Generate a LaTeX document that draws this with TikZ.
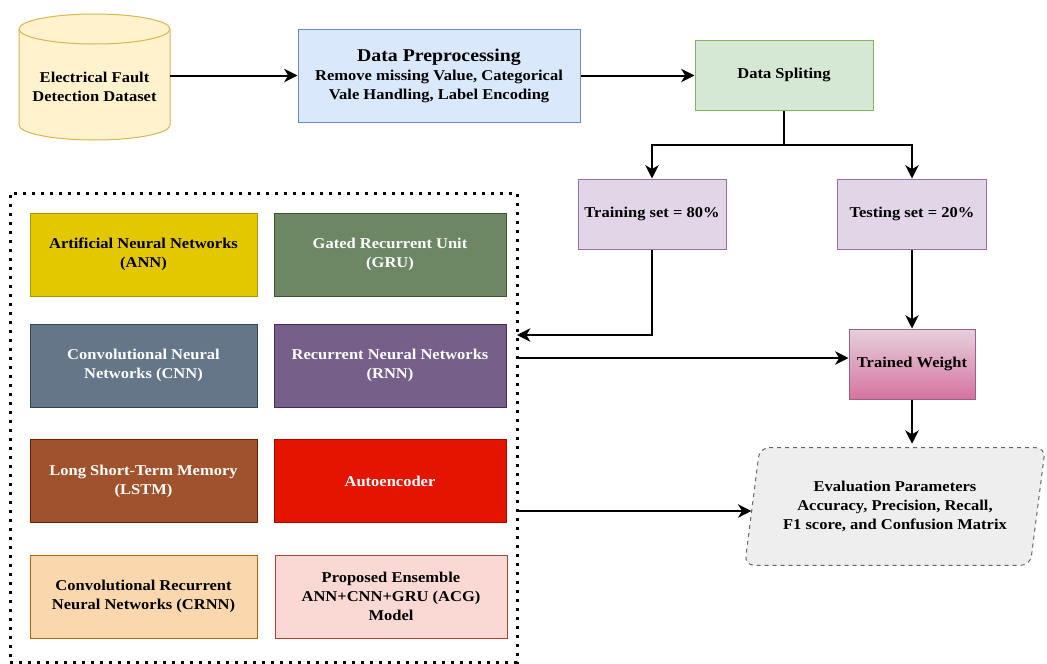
\documentclass[tikz,border=0pt]{standalone}
\usepackage{fontspec}
\setmainfont{Liberation Serif}[FakeStretch=1.1]
\usetikzlibrary{arrows.meta}

\definecolor{cylfill}{HTML}{FFF2CC}
\definecolor{cylline}{HTML}{D6B656}
\definecolor{bluefill}{HTML}{DAE8FC}
\definecolor{blueline}{HTML}{6C8EBF}
\definecolor{greenfill}{HTML}{D5E8D4}
\definecolor{greenline}{HTML}{82B366}
\definecolor{lilafill}{HTML}{E1D5E7}
\definecolor{lilaline}{HTML}{9673A6}
\definecolor{annfill}{HTML}{E3C800}
\definecolor{annline}{HTML}{B09500}
\definecolor{grufill}{HTML}{6D8764}
\definecolor{gruline}{HTML}{3A5431}
\definecolor{cnnfill}{HTML}{647687}
\definecolor{cnnline}{HTML}{314354}
\definecolor{rnnfill}{HTML}{76608A}
\definecolor{rnnline}{HTML}{432D57}
\definecolor{lstmfill}{HTML}{A0522D}
\definecolor{lstmline}{HTML}{6D1F00}
\definecolor{aefill}{HTML}{E51400}
\definecolor{aeline}{HTML}{B20000}
\definecolor{crnnfill}{HTML}{FAD7AC}
\definecolor{crnnline}{HTML}{B46504}
\definecolor{acgfill}{HTML}{FAD9D5}
\definecolor{acgline}{HTML}{AE4132}
\definecolor{wtop}{HTML}{E6D0DE}
\definecolor{wbottom}{HTML}{D5739D}
\definecolor{wline}{HTML}{996185}
\definecolor{evalfill}{HTML}{EEEEEE}
\definecolor{evalline}{HTML}{666666}

\newcommand{\bodyfont}{\fontsize{11.25pt}{14.25pt}\selectfont\bfseries}
\newcommand{\titlefont}{\fontsize{13.5pt}{14.25pt}\selectfont\bfseries}

\begin{document}
\begin{tikzpicture}[x=0.75pt,y=-0.75pt,
	box/.style={draw, line width=0.75pt, inner sep=2pt, align=center, font=\bodyfont},
	leftmodel/.style={box, minimum width=170.25pt, minimum height=62.25pt},
	rightmodel/.style={box, minimum width=174pt, minimum height=62.25pt},
	arr/.style={line width=1.5pt, -{Stealth[length=10pt,width=10pt,inset=3pt]}}]
	\useasboundingbox (0,0) rectangle (1047,664);

	% dataset cylinder
	\draw[draw=cylline, fill=cylfill, line width=0.75pt] (19,29) -- (19,125)
		arc[start angle=180, end angle=360, x radius=56.625pt, y radius=11.25pt] -- (170,29)
		arc[start angle=0, end angle=180, x radius=56.625pt, y radius=11.25pt] -- cycle;
	\draw[draw=cylline, line width=0.75pt] (19,29) arc[start angle=180, end angle=360, x radius=56.625pt, y radius=11.25pt];
	\node[minimum width=113.25pt, minimum height=94.5pt, inner sep=0pt] (data) at (94.5,77) {};
	\node[align=center, font=\bodyfont] (datatext) at (94.5,87) {Electrical Fault\\Detection Dataset};

	% top row
	\node[box, draw=blueline, fill=bluefill, minimum width=211.5pt, minimum height=69.75pt] (prep) at (439,75.5)
		{{\titlefont Data Preprocessing}\\Remove missing Value, Categorical\\Vale Handling, Label Encoding};
	\node[box, draw=greenline, fill=greenfill, minimum width=133.5pt, minimum height=52.5pt] (split) at (784,75) {Data Spliting};
	\node[box, draw=lilaline, fill=lilafill, minimum width=111pt, minimum height=52.5pt] (train) at (652,214) {Training set = 80\%};
	\node[box, draw=lilaline, fill=lilafill, minimum width=111.75pt, minimum height=52.5pt] (test) at (912,214) {Testing set = 20\%};

	% models
	\node[draw, line width=2.25pt, dash pattern=on 2.25pt off 4.5pt, minimum width=380.25pt, minimum height=351.75pt] (models) at (263.5,427.5) {};
	\node[leftmodel, draw=annline, fill=annfill] (ann) at (143.5,254.5) {Artificial Neural Networks\\(ANN)};
	\node[rightmodel, draw=gruline, fill=grufill, text=white] (gru) at (390,254.5) {Gated Recurrent Unit\\(GRU)};
	\node[leftmodel, draw=cnnline, fill=cnnfill, text=white] (cnn) at (143.5,365.5) {Convolutional Neural\\Networks (CNN)};
	\node[rightmodel, draw=rnnline, fill=rnnfill, text=white] (rnn) at (390,365.5) {Recurrent Neural Networks\\(RNN)};
	\node[leftmodel, draw=lstmline, fill=lstmfill, text=white] (lstm) at (143.5,481) {Long Short-Term Memory\\(LSTM)};
	\node[rightmodel, draw=aeline, fill=aefill, text=white] (ae) at (390,481) {Autoencoder};
	\node[leftmodel, draw=crnnline, fill=crnnfill] (crnn) at (143.5,596.5) {Convolutional Recurrent\\Neural Networks (CRNN)};
	\node[rightmodel, draw=acgline, fill=acgfill] (acg) at (391,596.5) {Proposed Ensemble\\ANN+CNN+GRU (ACG)\\Model};

	% right side
	\node[box, draw=wline, top color=wtop, bottom color=wbottom, minimum width=94.5pt, minimum height=52.5pt] (weight) at (912,364) {Trained Weight};
	\node[minimum width=225pt, minimum height=87.75pt, inner sep=0pt] (eval) at (895,506.5) {};
	\draw[draw=evalline, fill=evalfill, dashed, line width=0.75pt, rounded corners=7pt]
		([xshift=11.25pt]eval.north west) -- (eval.north east) -- ([xshift=-11.25pt]eval.south east) -- (eval.south west) -- cycle;
	\node[align=center, font=\bodyfont] (evaltext) at (eval) {Evaluation Parameters\\Accuracy, Precision, Recall,\\F1 score, and Confusion Matrix};

	% connectors
	\coordinate (fork) at (784,145);
	\coordinate (in1) at (517,335);
	\coordinate (out1) at (517,358);
	\coordinate (out2) at (517,511);
	\draw[arr] (data.east |- prep.west) -- (prep.west);
	\draw[arr] (prep.east) -- (split.west |- prep.east);
	\draw[line width=1.5pt] (split.south) -- (fork);
	\draw[arr] (fork) -| (train.north);
	\draw[arr] (fork) -| (test.north);
	\draw[arr] (train.south) |- (in1);
	\draw[arr] (out1) -- (out1 -| weight.west);
	\draw[arr] (test.south) -- (weight.north);
	\draw[arr, shorten >=3pt] (weight.south) -- (weight.south |- eval.north);
	\draw[arr] (out2) -- ([xshift=5pt]out2 -| eval.west);
\end{tikzpicture}
\end{document}
